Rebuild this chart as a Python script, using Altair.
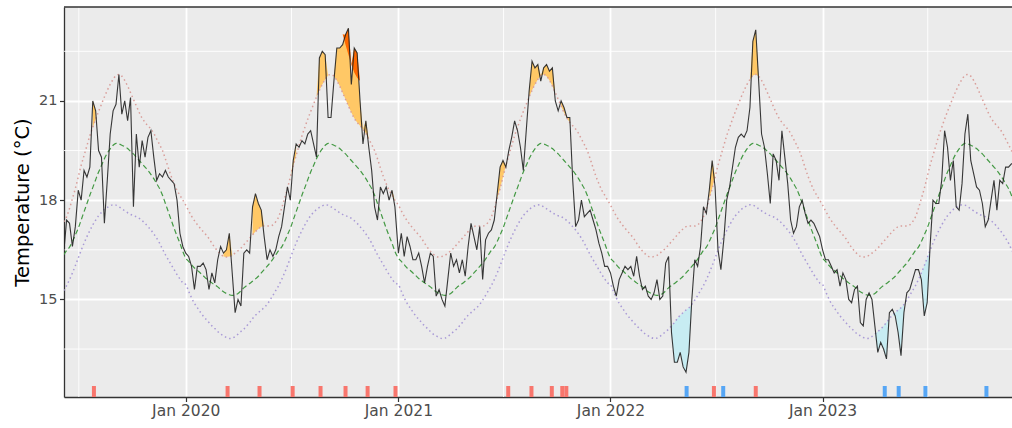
import altair as alt
import pandas as pd
from datetime import date, timedelta

# Sea temperature, one value every 5th day of the year (day 1, 6, 11, ..., 361)
temp_2019 = [16.4, 17.4, 17.3, 16.6, 17.2, 18.3, 18.0, 18.9, 18.7, 19.0,
             21.0, 20.7, 19.5, 19.3, 17.3, 18.6, 20.0, 20.7, 20.9, 21.8,
             20.6, 21.0, 20.4, 21.1, 17.8, 20.0, 19.0, 19.8, 19.3, 19.9,
             20.1, 19.3, 18.6, 18.8, 18.7, 18.9, 18.7, 18.6, 18.5, 18.0,
             17.0, 16.6]
temp_2020 = [16.4, 16.3, 16.0, 15.3, 16.0, 16.0, 16.1, 15.9, 15.3, 15.8,
             15.5, 16.2, 16.6, 16.4, 16.5, 17.0, 15.8, 14.6, 15.0, 14.8,
             16.4, 16.5, 16.4, 17.8, 18.2, 17.9, 17.7, 16.9, 16.2, 16.5,
             16.3, 16.5, 16.9, 17.2, 17.8, 18.4, 18.0, 19.2, 19.7, 19.6,
             19.8, 19.7, 20.0, 20.1, 19.7, 19.3, 22.3, 22.5, 22.4, 20.5,
             20.5, 21.6, 22.6, 22.6, 22.7, 23.0, 23.2, 21.5, 22.6, 22.45,
             21.0, 19.7, 20.4, 19.6, 18.9, 17.8, 17.4, 18.4, 18.2, 18.4,
             18.0, 18.3, 17.8]
temp_2021 = [16.4, 17.0, 16.3, 16.9, 16.6, 16.2, 16.2, 16.4, 16.0, 15.5,
             16.0, 16.4, 16.3, 15.1, 15.3, 15.0, 14.8, 15.6, 16.4, 16.0,
             16.2, 15.8, 16.2, 15.7, 16.6, 17.3, 16.9, 16.5, 17.2, 15.6,
             16.8, 17.0, 17.1, 17.4, 18.2, 19.0, 19.2, 19.0, 19.5, 19.9,
             20.4, 20.1, 19.6, 18.9, 20.1, 21.3, 22.2, 22.0, 22.1, 21.6,
             22.0, 22.1, 21.9, 22.0, 21.0, 20.7, 21.0, 20.8, 20.5, 20.5,
             18.6, 17.2, 17.4, 18.0, 17.5, 17.6, 17.7, 17.4, 17.1, 16.7,
             16.4, 16.0, 16.0]
temp_2022 = [15.8, 15.4, 15.1, 15.6, 15.8, 16.0, 15.9, 16.0, 15.7, 16.3,
             15.7, 15.3, 15.4, 15.1, 15.0, 15.2, 15.6, 15.0, 15.1, 16.1,
             16.3, 14.0, 13.1, 13.1, 13.4, 12.96, 12.8, 13.4, 15.0, 16.2,
             16.0, 16.6, 17.8, 17.6, 18.3, 19.2, 18.4, 16.5, 15.9, 16.8,
             18.0, 18.4, 19.0, 19.6, 19.9, 20.0, 19.9, 20.1, 20.8, 22.8,
             23.15, 21.6, 20.0, 19.6, 18.8, 17.9, 19.4, 19.2, 18.6, 20.1,
             19.3, 18.5, 17.4, 17.0, 17.2, 17.8, 18.0, 17.6, 17.3, 17.4,
             17.3, 17.1, 16.9]
temp_2023 = [16.5, 16.2, 16.2, 16.0, 15.8, 15.9, 15.4, 15.8, 15.6, 15.0,
             14.9, 15.3, 15.4, 14.3, 14.2, 15.0, 15.2, 15.0, 14.2, 13.4,
             13.7, 13.5, 13.2, 14.6, 14.7, 14.5, 14.0, 13.3, 14.6, 15.2,
             15.3, 15.6, 15.9, 15.9, 15.6, 14.5, 14.9, 16.6, 18.0, 17.9,
             17.9, 18.6, 20.1, 19.6, 18.6, 19.2, 17.8, 17.7, 18.5, 20.0,
             20.6, 19.2, 18.8, 18.4, 18.3, 17.9, 17.2, 17.4, 18.0, 18.6,
             17.7, 18.6, 18.5, 19.0, 19.0, 19.1, 19.1]
first_doy = {2019: 156, 2020: 1, 2021: 1, 2022: 1, 2023: 1}
series = {2019: temp_2019, 2020: temp_2020, 2021: temp_2021,
          2022: temp_2022, 2023: temp_2023}

# Climatology by day of year (day 1, 6, ..., 361): mean, 90th and 10th percentile
seas_clim = [16.25, 16.15, 16.05, 15.95, 15.88, 15.8, 15.72, 15.63, 15.57, 15.5,
             15.44, 15.38, 15.3, 15.23, 15.18, 15.14, 15.12, 15.14, 15.18, 15.26,
             15.35, 15.42, 15.48, 15.55, 15.62, 15.7, 15.8, 15.9, 16.0, 16.1,
             16.22, 16.35, 16.48, 16.58, 16.75, 16.95, 17.15, 17.4, 17.65, 17.9,
             18.15, 18.38, 18.62, 18.85, 19.05, 19.25, 19.42, 19.55, 19.66, 19.72,
             19.7, 19.66, 19.62, 19.56, 19.48, 19.4, 19.3, 19.2, 19.1, 19.0,
             18.9, 18.78, 18.65, 18.5, 18.35, 18.15, 17.9, 17.65, 17.4, 17.15,
             16.92, 16.7, 16.45]
thresh_clim = [17.85, 17.68, 17.52, 17.38, 17.26, 17.15, 17.05, 16.95, 16.84, 16.7,
               16.57, 16.46, 16.37, 16.3, 16.28, 16.3, 16.33, 16.4, 16.47, 16.55,
               16.65, 16.75, 16.85, 16.95, 17.05, 17.13, 17.2, 17.22, 17.22, 17.22,
               17.25, 17.35, 17.5, 17.75, 18.05, 18.35, 18.7, 19.05, 19.35, 19.65,
               19.95, 20.2, 20.45, 20.68, 20.9, 21.12, 21.32, 21.5, 21.65, 21.77,
               21.8, 21.75, 21.62, 21.45, 21.25, 21.05, 20.85, 20.65, 20.48, 20.35,
               20.25, 20.15, 20.02, 19.85, 19.68, 19.5, 19.25, 18.98, 18.72, 18.5,
               18.3, 18.15, 18.0]
cold_clim = [15.45, 15.25, 15.05, 14.88, 14.75, 14.62, 14.5, 14.4, 14.3, 14.2,
             14.12, 14.03, 13.95, 13.9, 13.85, 13.82, 13.83, 13.88, 13.95, 14.03,
             14.1, 14.2, 14.3, 14.42, 14.52, 14.6, 14.68, 14.75, 14.85, 14.98,
             15.12, 15.27, 15.42, 15.6, 15.8, 16.02, 16.25, 16.48, 16.7, 16.9,
             17.08, 17.25, 17.4, 17.53, 17.63, 17.72, 17.78, 17.83, 17.86, 17.85,
             17.8, 17.74, 17.68, 17.62, 17.57, 17.53, 17.5, 17.45, 17.38, 17.3,
             17.2, 17.1, 16.98, 16.85, 16.7, 16.52, 16.35, 16.2, 16.05, 15.9,
             15.75, 15.62, 15.5]

# Marine heatwave and cold-spell periods (start, end)
heat_windows = [("2019-07-22", "2019-08-03"), ("2020-03-06", "2020-03-21"),
                ("2020-04-21", "2020-05-17"), ("2020-06-28", "2020-07-12"),
                ("2020-08-13", "2020-09-03"), ("2020-09-04", "2020-11-13"),
                ("2020-12-19", "2021-01-02"), ("2021-06-20", "2021-07-07"),
                ("2021-08-12", "2021-10-02"), ("2021-10-06", "2021-10-27"),
                ("2022-06-19", "2022-07-03"), ("2022-08-28", "2022-09-13")]
cold_windows = [("2022-04-14", "2022-05-27"), ("2023-04-01", "2023-05-25"),
                ("2023-06-17", "2023-07-11")]

# Event peak dates shown as a rug along the bottom
heat_peaks = ["2019-07-27", "2020-03-13", "2020-05-07", "2020-07-03", "2020-08-20",
              "2020-10-02", "2020-11-09", "2020-12-27", "2021-07-09", "2021-08-18",
              "2021-09-22", "2021-10-10", "2021-10-17", "2022-06-28", "2022-09-08"]
cold_peaks = ["2022-05-12", "2022-07-14", "2023-04-18", "2023-05-12",
              "2023-06-27", "2023-10-10"]

jan_ticks = [2020, 2021, 2022, 2023]
jul_lines = ["2019-07-01", "2020-07-01", "2021-07-01", "2022-07-01", "2023-07-01"]
y_major = [15, 18, 21]
y_minor = [13.5, 16.5, 19.5, 22.5]


def window_id(day, windows):
    for j, (a, b) in enumerate(windows):
        if a <= day <= b:
            return j
    return None


rows = []
for year, temps in series.items():
    for i, t in enumerate(temps):
        doy = first_doy[year] + 5 * i
        k = (doy - 1) // 5
        day = (date(year, 1, 1) + timedelta(days=doy - 1)).isoformat()
        rows.append({"date": day, "temp": t, "seas": seas_clim[k],
                     "thresh": thresh_clim[k], "cold": cold_clim[k],
                     "heat_ev": window_id(day, heat_windows),
                     "cold_ev": window_id(day, cold_windows)})
df = pd.DataFrame(rows)

rug_df = pd.DataFrame({"date": heat_peaks + cold_peaks,
                       "kind": ["heat"] * len(heat_peaks) + ["cold"] * len(cold_peaks)})
vgrid_df = pd.DataFrame({"date": jul_lines})
hgrid_df = pd.DataFrame({"val": y_minor})

FONT = "DejaVu Sans"
W, H = 948, 390

x_scale = alt.Scale(type="utc", nice=False,
                    domain=[alt.DateTime(year=2019, month=6, date=5, hours=12, utc=True),
                            alt.DateTime(year=2023, month=11, date=23, utc=True)])
y_scale = alt.Scale(domain=[12.05, 23.84], nice=False, zero=False)

x_axis = alt.Axis(title=None, format="%b %Y",
                  values=[alt.DateTime(year=y, month=1, date=1, utc=True) for y in jan_ticks],
                  labelFont=FONT, labelFontSize=15.5, labelColor="#4D4D4D", labelPadding=2,
                  tickColor="#333333", tickSize=4.5, tickWidth=1.2,
                  domainColor="#333333", domainWidth=1.3,
                  gridColor="white", gridWidth=1.8)
y_axis = alt.Axis(title="Temperature (°C)", values=y_major,
                  labelFont=FONT, labelFontSize=14.5, labelColor="#4D4D4D", labelPadding=2.5,
                  tickColor="#333333", tickSize=4.5, tickWidth=1.2,
                  domainColor="#333333", domainWidth=1.3,
                  gridColor="white", gridWidth=1.8,
                  titleFont=FONT, titleFontSize=19.5, titleFontWeight="normal",
                  titleColor="black", titleX=-36, titleY=H / 2, titleAngle=270,
                  titleAlign="center", titleBaseline="alphabetic")


def X():
    return alt.X("date:T", scale=x_scale, axis=x_axis)


def Y(field):
    return alt.Y(field, scale=y_scale, axis=y_axis)


base = alt.Chart(df)

minor_v = alt.Chart(vgrid_df).mark_rule(color="white", strokeWidth=0.9).encode(x=X())
minor_h = alt.Chart(hgrid_df).mark_rule(color="white", strokeWidth=0.9).encode(y=Y("val:Q"))

heat_fill = base.transform_filter("isValid(datum.heat_ev)").transform_calculate(
    top="max(datum.temp, datum.thresh)"
).mark_area(color="#FFC866", clip=True).encode(
    x=X(), y=Y("top:Q"), y2=alt.Y2("thresh:Q"), detail="heat_ev:N")

strong_fill = base.transform_filter("isValid(datum.heat_ev)").transform_calculate(
    floor="2 * datum.thresh - datum.seas"
).transform_calculate(
    top="max(datum.temp, datum.floor)"
).mark_area(color="#FF6900", clip=True).encode(
    x=X(), y=Y("top:Q"), y2=alt.Y2("floor:Q"), detail="heat_ev:N")

cold_fill = base.transform_filter("isValid(datum.cold_ev)").transform_calculate(
    bottom="min(datum.temp, datum.cold)"
).mark_area(color="#C7ECF2", clip=True).encode(
    x=X(), y=Y("cold:Q"), y2=alt.Y2("bottom:Q"), detail="cold_ev:N")

cold_line = base.mark_line(color="#A99AD6", strokeWidth=1.5, strokeDash=[1.5, 3],
                           interpolate="monotone", clip=True).encode(x=X(), y=Y("cold:Q"))
thresh_line = base.mark_line(color="#D99E9A", strokeWidth=1.5, strokeDash=[1.5, 3],
                             interpolate="monotone", clip=True).encode(x=X(), y=Y("thresh:Q"))
seas_line = base.mark_line(color="#449944", strokeWidth=1.2, strokeDash=[5, 3],
                           interpolate="monotone", clip=True).encode(x=X(), y=Y("seas:Q"))
temp_line = base.mark_line(color="#222222", strokeWidth=1.1, opacity=0.9,
                           clip=True).encode(x=X(), y=Y("temp:Q"))

rug = alt.Chart(rug_df).mark_rule(strokeWidth=4, clip=True).encode(
    x=X(), y=alt.value(379), y2=alt.value(H),
    color=alt.Color("kind:N", legend=None,
                    scale=alt.Scale(domain=["heat", "cold"], range=["#F8766D", "#56A6F5"])))

top_border = alt.Chart(pd.DataFrame({"v": [0]})).mark_rule(
    color="#333333", strokeWidth=1.3).encode(
    x=alt.value(0), x2=alt.value(W), y=alt.value(0))

chart = alt.layer(
    minor_v, minor_h, heat_fill, strong_fill, cold_fill,
    cold_line, thresh_line, seas_line, temp_line, rug, top_border
).properties(
    width=W, height=H,
    autosize=alt.AutoSizeParams(type="none"),
    padding={"left": 64, "top": 7, "right": 0, "bottom": 31},
    background="white"
).configure_view(fill="#EBEBEB", stroke=None)

chart.save("out.html", embed_options={"renderer": "svg", "actions": False})
